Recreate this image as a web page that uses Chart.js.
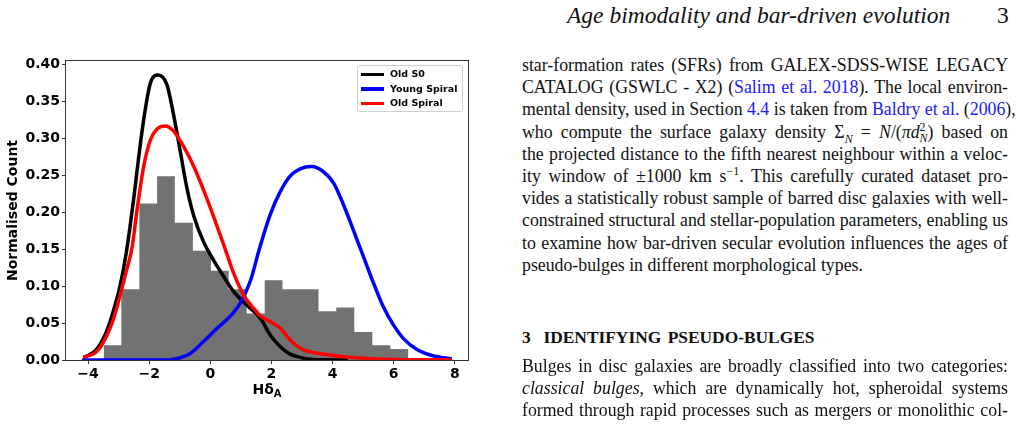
<!DOCTYPE html>
<html>
<head>
<meta charset="utf-8">
<title>Age bimodality and bar-driven evolution</title>
<script src="https://cdn.jsdelivr.net/npm/chart.js@4.4.1/dist/chart.umd.min.js"></script>
<style>
  body {
    margin: 0;
    width: 1016px;
    height: 425px;
    overflow: hidden;
    position: relative;
    background: #fff;
    color: #111;
    font-family: 'Liberation Serif', serif;
  }
  #plot { position: absolute; left: 0; top: 0; }
  #xlab {
    position: absolute; left: 0; top: 381px; width: 534px;
    text-align: center; font: bold 14px 'DejaVu Sans'; color: #000;
  }
  #xlab sub { font-size: 10px; vertical-align: -3px; line-height: 0; }
  #legend {
    position: absolute; left: 357px; top: 65px; width: 104px; height: 45px;
    border: 1px solid #cfcfcf; border-radius: 3px; background: rgba(255,255,255,0.85);
    font: bold 9.5px 'DejaVu Sans'; color: #000;
  }
  #legend div { position: absolute; left: 3px; height: 14px; line-height: 14px; white-space: nowrap; }
  #legend span.ln { display: inline-block; width: 23px; height: 3.5px; vertical-align: middle; margin-right: 6px; }
  #head { position: absolute; left: 567px; top: 1px; font-style: italic; font-size: 23.5px; line-height: 28px; white-space: nowrap; }
  #pnum { position: absolute; left: 997px; top: 1px; font-size: 23.5px; line-height: 28px; }
  .col { position: absolute; left: 522px; width: 486px; font-size: 17.8px; line-height: 22.2px; }
  .col div { text-align: justify; text-align-last: justify; white-space: nowrap; }
  .col div.last { text-align-last: left; }
  .col .lk { color: #1a1aff; }
  .col sub, .col sup { font-size: 12px; line-height: 0; }
  #sec { position: absolute; left: 522px; top: 326px; font-weight: bold; font-size: 17.4px; line-height: 22px; word-spacing: 2px; }
</style>
</head>
<body>

<canvas id="plot" width="490" height="400"></canvas>
<div id="xlab">Hδ<sub>A</sub></div>
<div id="legend"></div>

<div id="head">Age bimodality and bar-driven evolution</div>
<div id="pnum">3</div>

<div class="col" style="top:54px">
  <div>star-formation rates (SFRs) from GALEX-SDSS-WISE LEGACY</div>
  <div>CATALOG (GSWLC - X2) (<span class="lk">Salim et al. 2018</span>). The local environ-</div>
  <div>mental density, used in Section <span class="lk">4.4</span> is taken from <span class="lk">Baldry et al.</span> (<span class="lk">2006</span>),</div>
  <div>who compute the surface galaxy density Σ<sub><i>N</i></sub> = <i>N</i>/(<i>πd</i><sup>2</sup><sub style="margin-left:-6px"><i>N</i></sub>) based on</div>
  <div>the projected distance to the fifth nearest neighbour within a veloc-</div>
  <div>ity window of ±1000 km s<sup>−1</sup>. This carefully curated dataset pro-</div>
  <div>vides a statistically robust sample of barred disc galaxies with well-</div>
  <div>constrained structural and stellar-population parameters, enabling us</div>
  <div>to examine how bar-driven secular evolution influences the ages of</div>
  <div class="last">pseudo-bulges in different morphological types.</div>
</div>

<div id="sec">3&nbsp; IDENTIFYING PSEUDO-BULGES</div>

<div class="col" style="top:355px">
  <div>Bulges in disc galaxies are broadly classified into two categories:</div>
  <div><i>classical bulges</i>, which are dynamically hot, spheroidal systems</div>
  <div>formed through rapid processes such as mergers or monolithic col-</div>
</div>

<script>
// histogram (bin edges and normalised heights)
var histEdges = [-3.49, -2.91, -2.32, -1.74, -1.16, -0.57, 0.02, 0.60, 1.19, 1.78, 2.36, 2.95, 3.54, 4.12, 4.71, 5.30, 5.89, 6.48];
var histHeights = [0.020, 0.096, 0.212, 0.249, 0.186, 0.148, 0.121, 0.096, 0.063, 0.108, 0.096, 0.096, 0.066, 0.071, 0.038, 0.020, 0.015];

// KDE curves
var oldS0X = [-4.15, -4.05, -3.80, -3.62, -3.40, -3.18, -2.96, -2.75, -2.64, -2.50, -2.40, -2.18, -1.96, -1.71, -1.42, -1.20, -0.98, -0.76, -0.54, -0.22, 0.11, 0.44, 0.76, 1.20, 1.63, 1.96, 2.29, 2.61, 2.94, 3.27, 3.80, 4.50];
var oldS0Y = [0.003, 0.005, 0.011, 0.020, 0.038, 0.065, 0.099, 0.145, 0.176, 0.220, 0.255, 0.325, 0.375, 0.386, 0.373, 0.332, 0.282, 0.232, 0.195, 0.160, 0.135, 0.113, 0.093, 0.074, 0.057, 0.034, 0.018, 0.008, 0.0036, 0.001, 0.0002, 0];

var youngX = [-4.20, -2.00, -1.30, -0.98, -0.65, -0.22, 0.22, 0.65, 0.98, 1.31, 1.63, 1.96, 2.29, 2.61, 2.94, 3.32, 3.70, 4.03, 4.36, 4.68, 5.01, 5.34, 5.66, 5.99, 6.32, 6.75, 7.19, 7.62, 7.90];
var youngY = [0, 0, 0.0005, 0.003, 0.009, 0.025, 0.043, 0.059, 0.077, 0.107, 0.154, 0.197, 0.228, 0.249, 0.259, 0.262, 0.255, 0.240, 0.210, 0.176, 0.140, 0.104, 0.072, 0.0475, 0.029, 0.0145, 0.0068, 0.003, 0.0014];

var oldSpX = [-4.15, -3.83, -3.62, -3.40, -3.18, -2.96, -2.75, -2.56, -2.40, -2.18, -1.96, -1.74, -1.47, -1.20, -0.87, -0.54, -0.22, 0.11, 0.44, 0.76, 1.09, 1.42, 1.63, 1.96, 2.29, 2.61, 2.94, 3.27, 3.70, 4.36, 5.01, 5.66, 6.50, 7.90];
var oldSpY = [0.004, 0.008, 0.016, 0.032, 0.054, 0.086, 0.120, 0.152, 0.202, 0.262, 0.298, 0.313, 0.317, 0.310, 0.289, 0.262, 0.230, 0.194, 0.156, 0.118, 0.088, 0.070, 0.060, 0.052, 0.043, 0.027, 0.016, 0.011, 0.008, 0.0045, 0.0023, 0.001, 0.0004, 0.0001];

var seriesNames = ['Old S0', 'Young Spiral', 'Old Spiral'];
var seriesColors = ['#000000', '#0000ff', '#ff0000'];

function pts(xs, ys) {
  return xs.map(function (x, i) { return {x: x, y: ys[i]}; });
}

// stepped outline of the histogram, last height held to the final edge
var histPts = histEdges.map(function (e, i) {
  return {x: e, y: histHeights[Math.min(i, histHeights.length - 1)]};
});

function curve(i, xs, ys) {
  return {
    label: seriesNames[i],
    data: pts(xs, ys),
    borderColor: seriesColors[i],
    borderWidth: 3.5,
    pointRadius: 0,
    cubicInterpolationMode: 'monotone',
    fill: false,
    order: 3 - i
  };
}

var frame = {
  id: 'frame',
  afterDraw: function (chart) {
    var a = chart.chartArea, c = chart.ctx;
    c.save();
    c.strokeStyle = '#333';
    c.lineWidth = 1;
    c.strokeRect(Math.round(a.left) - 0.5, Math.round(a.top) - 0.5, Math.round(a.right - a.left) + 1, Math.round(a.bottom - a.top) + 1);
    c.restore();
  }
};

var tickFont = {family: 'DejaVu Sans', size: 14, weight: 'bold'};

var chart = new Chart(document.getElementById('plot'), {
  type: 'line',
  data: {
    datasets: [
      {
        label: 'hist',
        data: histPts,
        stepped: 'before',
        borderColor: 'rgba(0,0,0,0)',
        borderWidth: 1,
        backgroundColor: '#727272',
        fill: 'origin',
        pointRadius: 0,
        order: 10
      },
      curve(0, oldS0X, oldS0Y),
      curve(1, youngX, youngY),
      curve(2, oldSpX, oldSpY)
    ]
  },
  options: {
    responsive: false,
    animation: false,
    layout: {padding: {top: 61, right: 22, left: 0, bottom: 0}},
    plugins: {legend: {display: false}, tooltip: {enabled: false}},
    scales: {
      x: {
        type: 'linear',
        min: -4.72, max: 8.43,
        border: {display: false},
        grid: {drawOnChartArea: false, tickLength: 4, color: '#333'},
        ticks: {stepSize: 2, includeBounds: false, padding: 2, color: '#000', font: tickFont,
                callback: function (v) { return v < 0 ? '\u2212' + Math.abs(v) : String(v); }},
        afterFit: function (s) { s.height = 40; }
      },
      y: {
        min: 0, max: 0.405,
        border: {display: false},
        grid: {drawOnChartArea: false, tickLength: 4, color: '#333'},
        ticks: {stepSize: 0.05, includeBounds: false, padding: 2, color: '#000', font: tickFont,
                callback: function (v) { return v.toFixed(2); }},
        title: {display: true, text: 'Normalised Count', color: '#000', padding: {top: 5, bottom: 0},
                font: {family: 'DejaVu Sans', size: 14, weight: 'bold'}},
        afterFit: function (s) { s.width = 66; }
      }
    }
  },
  plugins: [frame]
});

// legend box drawn from the curve datasets
var lg = document.getElementById('legend');
chart.data.datasets.slice(1).forEach(function (ds, i) {
  var row = document.createElement('div');
  row.style.top = (1 + i * 14.5) + 'px';
  row.innerHTML = '<span class="ln" style="background:' + ds.borderColor + '"></span>' + ds.label;
  lg.appendChild(row);
});
</script>
</body>
</html>
